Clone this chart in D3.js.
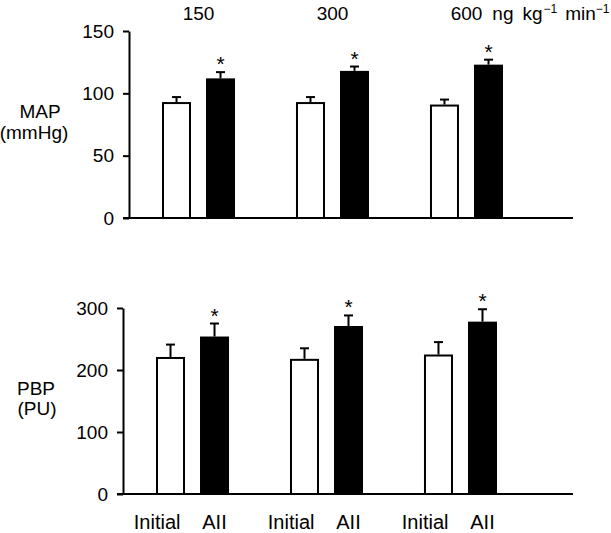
<!DOCTYPE html>
<html><head><meta charset="utf-8">
<script src="https://cdn.jsdelivr.net/npm/d3@7"></script>
<style>
body{margin:0;background:#fff}
svg{display:block}
text{font-family:"Liberation Sans",Arial,sans-serif;fill:#000}
</style>
</head><body>
<svg id="c" width="611" height="533"></svg>
<script>
// ---- data ----
const groups = ["150", "300", "600"];
const conditions = ["Initial", "AII"];
const doseUnitParts = ["ng", "kg", "\u22121", "min", "\u22121"];

const mapInitial = [93, 93, 91];
const mapInitialErr = [4, 4, 4];
const mapAII = [112, 118, 123];
const mapAIIErr = [5, 3.5, 4];
const mapTicks = [0, 50, 100, 150];

const pbpInitial = [221, 218, 225];
const pbpInitialErr = [20, 17, 20];
const pbpAII = [254, 271, 278];
const pbpAIIErr = [21, 17, 20];
const pbpTicks = [0, 100, 200, 300];

const significant = [true, true, true];

// ---- drawing ----
const svg = d3.select("#c");
const FONT = 19;

function panel(o) {
  const g = svg.append("g");
  const x = d3.scaleBand().domain(groups).range([o.x0, o.x1]).paddingInner(0.455).paddingOuter(0);
  const xi = d3.scaleBand().domain(conditions).range([0, x.bandwidth()]).paddingInner(0.341);
  const y = d3.scaleLinear().domain([0, o.ticks[o.ticks.length - 1]]).range([o.yBottom, o.yTop]);

  const ax = g.append("g")
    .attr("transform", `translate(${o.axisX},0)`)
    .call(d3.axisLeft(y).tickValues(o.ticks).tickSize(6).tickPadding(9).tickSizeOuter(0));
  ax.attr("font-family", null).attr("font-size", null);
  ax.select(".domain").attr("stroke-width", 2);
  ax.selectAll(".tick line").attr("stroke-width", 2);
  ax.selectAll(".tick text").style("font-size", FONT + "px");

  g.append("line")
    .attr("x1", o.axisX - 6).attr("x2", o.axisEnd)
    .attr("y1", y(0)).attr("y2", y(0))
    .attr("stroke", "#000").attr("stroke-width", 2);

  const rows = [];
  groups.forEach((gr, i) => {
    rows.push({ g: gr, c: "Initial", v: o.init[i], e: o.initErr[i], i });
    rows.push({ g: gr, c: "AII", v: o.aii[i], e: o.aiiErr[i], i });
  });

  const bars = g.append("g").selectAll("g").data(rows).join("g");
  bars.append("rect")
    .attr("x", d => x(d.g) + xi(d.c) + 1)
    .attr("width", xi.bandwidth() - 2)
    .attr("y", d => y(d.v) + 1)
    .attr("height", d => y(0) - y(d.v) - 1)
    .attr("fill", d => d.c === "AII" ? "#000" : "#fff")
    .attr("stroke", "#000").attr("stroke-width", 2);
  const cx = d => x(d.g) + xi(d.c) + xi.bandwidth() / 2;
  bars.append("line")
    .attr("x1", cx).attr("x2", cx)
    .attr("y1", d => y(d.v)).attr("y2", d => y(d.v + d.e))
    .attr("stroke", "#000").attr("stroke-width", 2);
  bars.append("line")
    .attr("x1", d => cx(d) - 4.5).attr("x2", d => cx(d) + 4.5)
    .attr("y1", d => y(d.v + d.e)).attr("y2", d => y(d.v + d.e))
    .attr("stroke", "#000").attr("stroke-width", 2);
  bars.filter(d => d.c === "AII" && significant[d.i]).append("text")
    .attr("x", cx).attr("y", d => y(d.v + d.e) - 1)
    .attr("text-anchor", "middle").style("font-size", "21px").text("*");

  g.append("text").attr("text-anchor", "middle").style("font-size", FONT + "px")
    .attr("x", o.label1X).attr("y", o.label1Y).text(o.label1);
  g.append("text").attr("text-anchor", "middle").style("font-size", FONT + "px")
    .attr("x", o.label2X).attr("y", o.label2Y).text(o.label2);
  return { x, xi, y };
}

const topP = panel({
  x0: 162, x1: 503, axisX: 129, axisEnd: 573, yBottom: 218, yTop: 31,
  ticks: mapTicks, init: mapInitial, initErr: mapInitialErr, aii: mapAII, aiiErr: mapAIIErr,
  label1: "MAP", label2: "(mmHg)", label1X: 40, label2X: 34, label1Y: 118, label2Y: 139
});
const botP = panel({
  x0: 156, x1: 497, axisX: 123, axisEnd: 573, yBottom: 494, yTop: 308,
  ticks: pbpTicks, init: pbpInitial, initErr: pbpInitialErr, aii: pbpAII, aiiErr: pbpAIIErr,
  label1: "PBP", label2: "(PU)", label1X: 36, label2X: 37, label1Y: 395, label2Y: 415
});

// header dose labels
groups.forEach((gr, i) => {
  const c = topP.x(gr) + topP.x.bandwidth() / 2;
  const t = svg.append("text").attr("y", 20).style("font-size", FONT + "px");
  if (i < groups.length - 1) {
    t.attr("x", c).attr("text-anchor", "middle").text(gr);
  } else {
    const num = t.append("tspan").text(gr);
    const w = num.node().getComputedTextLength();
    t.attr("x", c - w / 2);
    t.append("tspan").attr("dx", 10).text(doseUnitParts[0]);
    t.append("tspan").attr("dx", 9).text(doseUnitParts[1]);
    t.append("tspan").attr("dx", 1).attr("dy", -7).style("font-size", "12px").text(doseUnitParts[2]);
    t.append("tspan").attr("dx", 8).attr("dy", 7).text(doseUnitParts[3]);
    t.append("tspan").attr("dx", 0).attr("dy", -7).style("font-size", "12px").text(doseUnitParts[4]);
  }
});

// bottom condition labels
groups.forEach(gr => {
  conditions.forEach(c => {
    const left = botP.x(gr) + botP.xi(c);
    const isInit = c === "Initial";
    svg.append("text")
      .attr("x", isInit ? left + botP.xi.bandwidth() - 4.5 : left + botP.xi.bandwidth() / 2)
      .attr("y", 529)
      .attr("text-anchor", isInit ? "end" : "middle")
      .style("font-size", "20px")
      .text(c);
  });
});
</script>
</body></html>
